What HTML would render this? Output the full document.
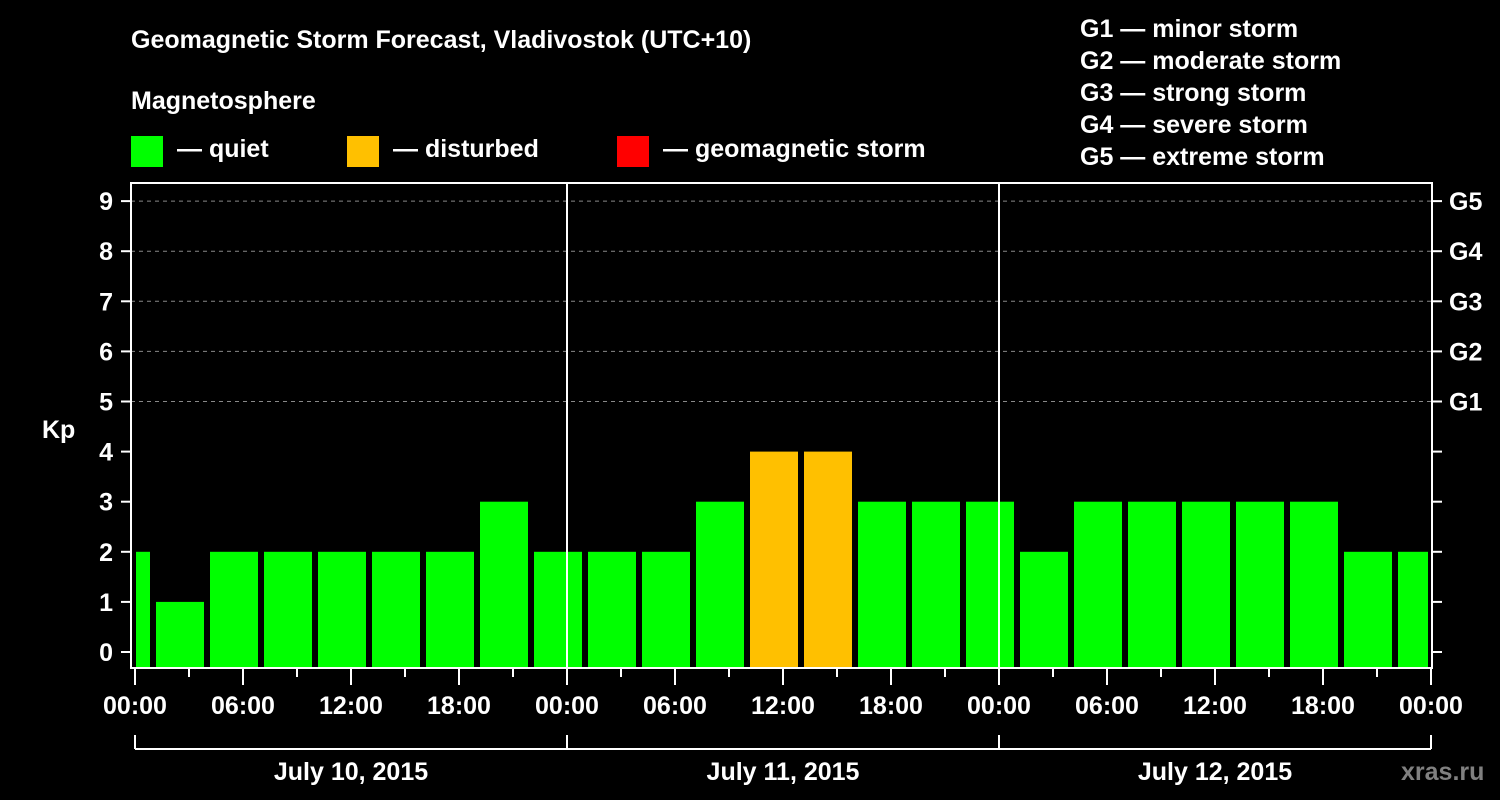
<!DOCTYPE html>
<html><head><meta charset="utf-8"><style>
html,body{margin:0;padding:0;background:#000;}
svg{display:block;font-family:"Liberation Sans",Arial,sans-serif;font-weight:bold;}
</style></head><body>
<svg id="chart" width="1500" height="800" viewBox="0 0 1500 800">
<rect width="1500" height="800" fill="#000"/>
<text x="131" y="48" fill="#fff" font-size="25">Geomagnetic Storm Forecast, Vladivostok (UTC+10)</text>
<text x="131" y="109" fill="#fff" font-size="25">Magnetosphere</text>
<g><rect x="131" y="136" width="32" height="31" fill="#00ff00"/><text x="177" y="157" fill="#fff" font-size="25">— quiet</text></g>
<g><rect x="347" y="136" width="32" height="31" fill="#ffc000"/><text x="393" y="157" fill="#fff" font-size="25">— disturbed</text></g>
<g><rect x="617" y="136" width="32" height="31" fill="#ff0000"/><text x="663" y="157" fill="#fff" font-size="25">— geomagnetic storm</text></g>
<g fill="#fff" font-size="25">
<text x="1080" y="37">G1 — minor storm</text>
<text x="1080" y="69">G2 — moderate storm</text>
<text x="1080" y="101">G3 — strong storm</text>
<text x="1080" y="133">G4 — severe storm</text>
<text x="1080" y="165">G5 — extreme storm</text>
</g>
<text x="42" y="438" fill="#fff" font-size="25">Kp</text>
<text x="1401" y="780" fill="#808080" font-size="25">xras.ru</text>
<g id="plot"></g>
</svg>
<script>
const dayLabels = ["July 10, 2015","July 11, 2015","July 12, 2015"];
const kpTicks = [0,1,2,3,4,5,6,7,8,9];
const gLabels = ["G1","G2","G3","G4","G5"];
const hourLabels = ["00:00","06:00","12:00","18:00"];
// Kp per 3-hour slot; first slot starts at -2h (partial), slots centered at -0.5h + 3k
const kpValues = [2,1,2,2,2,2,2,3,2,2,2,3,4,4,3,3,3,2,3,3,3,3,3,2,2];
const kpStatus = ["q","q","q","q","q","q","q","q","q","q","q","q","d","d","q","q","q","q","q","q","q","q","q","q","q"];

const NS="http://www.w3.org/2000/svg";
const g=document.getElementById('plot');
const X0=135, PXH=18, L=131, R=1432, T=183, B=668;
const x=h=>X0+h*PXH;
const y=v=>652-v*50.1;
function mk(t,a){const e=document.createElementNS(NS,t);for(const k in a)e.setAttribute(k,a[k]);g.appendChild(e);return e;}
const colors={q:"#00ff00",d:"#ffc000",s:"#ff0000"};
// grid
for(let v=5;v<=9;v++){const e=mk('line',{x1:L,x2:R,y1:y(v),y2:y(v),stroke:'#888','stroke-dasharray':'4,4','stroke-width':1});

}
// bars
kpValues.forEach((v,i)=>{const s=-2+3*i;let x1=x(s)+3,x2=x(s+3)-3;x1=Math.max(x1,L+5);x2=Math.min(x2,R-4);
const e=mk('rect',{x:x1,y:y(v),width:x2-x1,height:B-y(v),fill:colors[kpStatus[i]]});

});
// day separators
[24,48].forEach(h=>{const e=mk('line',{x1:x(h),x2:x(h),y1:T,y2:B,stroke:'#fff','stroke-width':2});

});
// frame
const f=mk('rect',{x:L,y:T,width:R-L,height:B-T,fill:'none',stroke:'#fff','stroke-width':2});


// y ticks
kpTicks.forEach(v=>{mk('line',{x1:L-10,x2:L,y1:y(v),y2:y(v),stroke:'#fff','stroke-width':2});
mk('line',{x1:R,x2:R+10,y1:y(v),y2:y(v),stroke:'#fff','stroke-width':2});
const t=mk('text',{x:113,y:y(v)+9,fill:'#fff','font-size':25,'text-anchor':'end'});t.textContent=v;

});
gLabels.forEach((s,i)=>{const t=mk('text',{x:1449,y:y(5+i)+9,fill:'#fff','font-size':25});t.textContent=s;

});
// x ticks
for(let h=0;h<=72;h+=3){const major=h%6===0;mk('line',{x1:x(h),x2:x(h),y1:B,y2:B+(major?17:9),stroke:'#fff','stroke-width':2});
if(major){const t=mk('text',{x:x(h),y:714,fill:'#fff','font-size':25,'text-anchor':'middle'});t.textContent=hourLabels[(h/6)%4];

}}
// day bracket
mk('line',{x1:x(0),x2:x(72),y1:749,y2:749,stroke:'#fff','stroke-width':2});
for(let d=0;d<=3;d++)mk('line',{x1:x(24*d),x2:x(24*d),y1:735,y2:749,stroke:'#fff','stroke-width':2});
dayLabels.forEach((s,d)=>{const t=mk('text',{x:x(24*d+12),y:780,fill:'#fff','font-size':25,'text-anchor':'middle'});t.textContent=s;

});
</script>
</body></html>
